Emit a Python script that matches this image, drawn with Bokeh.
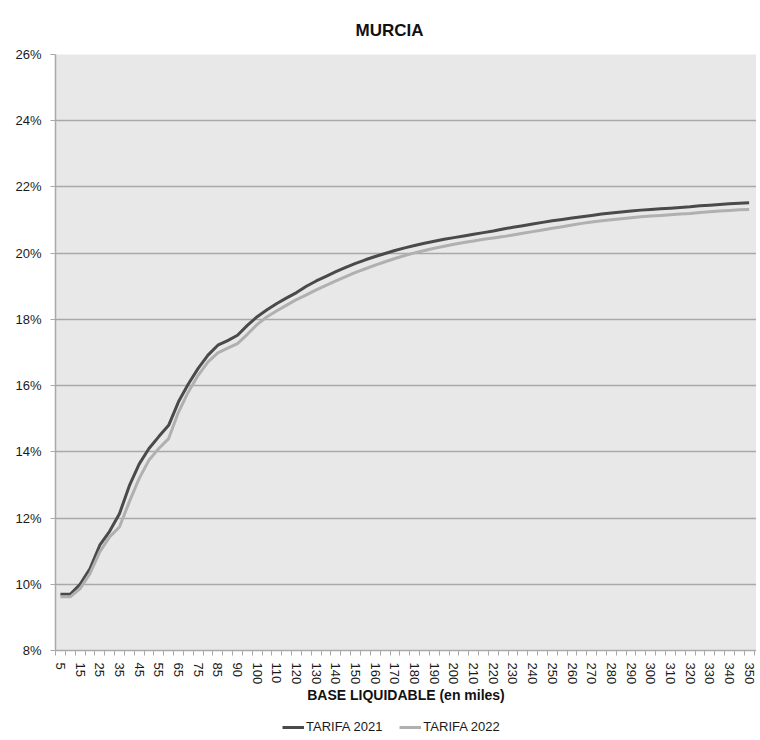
import math
from bokeh.plotting import figure
from bokeh.layouts import column
from bokeh.models import Range1d, FixedTicker, Legend, LegendItem
from bokeh.embed import file_html
from bokeh.resources import INLINE

# ---------------- data ----------------
categories = (["5", "10", "15", "20", "25", "30", "35", "40", "45", "50", "55", "60",
               "65", "70", "75", "80", "85", "87.5"] +
              ["90", "95", "100", "105", "110", "115", "120", "125", "130", "135", "140",
               "145", "150", "155", "160", "165", "170", "175", "180", "185", "190", "195",
               "200", "205", "210", "215", "220", "225", "230", "235", "240", "245", "250",
               "255", "260", "265", "270", "275", "280", "285", "290", "295", "300", "305",
               "310", "315", "320", "325", "330", "335", "340", "345", "350"])

tarifa_2021 = [9.70, 9.70, 10.00, 10.47, 11.18, 11.60, 12.13, 12.97, 13.63, 14.10,
               14.46, 14.80, 15.51, 16.05, 16.52, 16.92, 17.22, 17.36, 17.52, 17.82,
               18.08, 18.29, 18.48, 18.65, 18.81, 19.00, 19.16, 19.30, 19.44, 19.57,
               19.69, 19.80, 19.90, 19.99, 20.08, 20.16, 20.23, 20.30, 20.36, 20.42,
               20.47, 20.52, 20.57, 20.62, 20.67, 20.73, 20.78, 20.83, 20.88, 20.93,
               20.98, 21.02, 21.06, 21.10, 21.14, 21.18, 21.21, 21.24, 21.27, 21.30,
               21.32, 21.34, 21.36, 21.38, 21.40, 21.43, 21.45, 21.47, 21.49, 21.51,
               21.52]

tarifa_2022 = [9.62, 9.62, 9.87, 10.32, 10.98, 11.43, 11.73, 12.49, 13.19, 13.75,
               14.10, 14.40, 15.20, 15.81, 16.31, 16.72, 16.99, 17.13, 17.27, 17.55,
               17.85, 18.08, 18.26, 18.43, 18.60, 18.74, 18.89, 19.03, 19.16, 19.29,
               19.42, 19.53, 19.64, 19.74, 19.84, 19.93, 20.01, 20.08, 20.15, 20.21,
               20.27, 20.32, 20.37, 20.42, 20.46, 20.50, 20.55, 20.60, 20.65, 20.70,
               20.75, 20.80, 20.85, 20.90, 20.94, 20.98, 21.01, 21.04, 21.07, 21.10,
               21.12, 21.14, 21.16, 21.18, 21.20, 21.23, 21.25, 21.27, 21.29, 21.31,
               21.32]

y_ticks = [8, 10, 12, 14, 16, 18, 20, 22, 24, 26]
y_labels = ["8%", "10%", "12%", "14%", "16%", "18%", "20%", "22%", "24%", "26%"]

series_names = ["TARIFA 2021", "TARIFA 2022"]
title_text = "MURCIA"
x_title = "BASE LIQUIDABLE (en miles)"

# ---------------- style ----------------
FONT = "'Liberation Sans Narrow', 'Arial Narrow', 'Liberation Sans', sans-serif"
GRID = "#a9a9a9"
C2021 = "#4a4a4a"
C2022 = "#b0b0b0"

xs = list(range(len(categories)))

p = figure(width=756, height=706, output_backend="svg", toolbar_location=None,
           x_range=Range1d(-0.5, len(categories) - 0.25), y_range=Range1d(8, 26),
           min_border_left=55, min_border_right=0, min_border_top=54,
           min_border_bottom=54,
           background_fill_color="#e8e8e8", border_fill_color="white",
           outline_line_color=None)

p.title.text = title_text
p.title.align = "left"
p.title.offset = 300
p.title.text_font = FONT
p.title.text_font_size = "17px"
p.title.text_font_style = "bold"
p.title.text_color = "#111111"
p.title.standoff = 30

r1 = p.line(xs, tarifa_2021, line_color=C2021, line_width=3)
r2 = p.line(xs, tarifa_2022, line_color=C2022, line_width=3)

# y axis
yax = p.yaxis[0]
yax.ticker = FixedTicker(ticks=y_ticks)
yax.major_label_overrides = {t: l for t, l in zip(y_ticks, y_labels)}
yax.major_tick_out = 5
yax.major_tick_in = 0
yax.minor_tick_out = 0
yax.minor_tick_in = 0
yax.major_tick_line_color = GRID
yax.axis_line_color = GRID
yax.axis_line_width = 1.5
yax.major_label_standoff = 9
yax.major_label_text_font = FONT
yax.major_label_text_font_size = "13px"
yax.major_label_text_color = "#1a1a1a"

# x axis
xax = p.xaxis[0]
label_idx = [i for i in xs if i % 2 == 0]
xax.ticker = FixedTicker(ticks=label_idx, minor_ticks=[i - 0.5 for i in xs] + [xs[-1] + 0.5])
xax.major_label_overrides = {i: categories[i] for i in label_idx}
xax.major_tick_out = 0
xax.major_tick_in = 0
xax.minor_tick_out = 5
xax.minor_tick_in = 0
xax.minor_tick_line_color = GRID
xax.axis_line_color = GRID
xax.axis_line_width = 1.5
xax.major_label_orientation = -math.pi / 2
xax.major_label_standoff = 7
xax.major_label_text_font = FONT
xax.major_label_text_font_size = "13px"
xax.major_label_text_color = "#1a1a1a"
xax.axis_label = x_title
xax.axis_label_standoff = 0
xax.axis_label_text_font = FONT
xax.axis_label_text_font_size = "14px"
xax.axis_label_text_font_style = "bold"
xax.axis_label_text_color = "#111111"

p.ygrid.ticker = FixedTicker(ticks=y_ticks)
p.ygrid.grid_line_color = GRID
p.ygrid.grid_line_width = 1.5
p.xgrid.visible = False

# ---------------- legend strip ----------------
pl = figure(width=756, height=30, output_backend="svg", toolbar_location=None,
            x_range=Range1d(0, 1), y_range=Range1d(0, 1),
            x_axis_location=None, y_axis_location=None,
            min_border=0, outline_line_color=None,
            background_fill_color="white", border_fill_color="white")
pl.grid.visible = False
# swatch renderers sit outside the visible range; only their legend glyphs show
l1 = pl.line(x=[-5, -4], y=[-5, -5], line_color=C2021, line_width=3)
l2 = pl.line(x=[-5, -4], y=[-5, -5], line_color=C2022, line_width=3)
legend = Legend(items=[LegendItem(label=series_names[0], renderers=[l1]),
                       LegendItem(label=series_names[1], renderers=[l2])],
                orientation="horizontal", location=(227, 2),
                border_line_color=None, background_fill_alpha=0,
                label_text_font=FONT, label_text_font_size="13px",
                label_text_color="#1a1a1a",
                glyph_width=22, glyph_height=14, label_standoff=2,
                spacing=17, padding=0, margin=0)
pl.add_layout(legend)

layout = column(p, pl, spacing=0)
open("out.html", "w").write(file_html(layout, INLINE))
